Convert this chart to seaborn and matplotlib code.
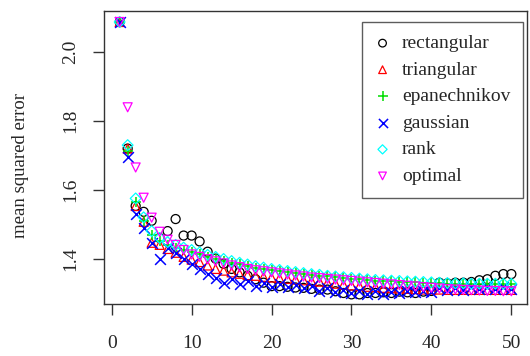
import numpy as np
import pandas as pd
import seaborn as sns
import matplotlib.pyplot as plt

# number of neighbours k = 1..50
k = np.arange(1, 51)

rectangular = [2.088, 1.720, 1.553, 1.536, 1.510, 1.460, 1.480, 1.515, 1.467, 1.467,
               1.450, 1.420, 1.400, 1.385, 1.370, 1.360, 1.350, 1.340, 1.330, 1.320,
               1.320, 1.318, 1.316, 1.315, 1.312, 1.310, 1.310, 1.305, 1.300, 1.296,
               1.296, 1.300, 1.300, 1.302, 1.300, 1.304, 1.302, 1.300, 1.304, 1.306,
               1.330, 1.328, 1.330, 1.330, 1.332, 1.337, 1.340, 1.350, 1.355, 1.355]
triangular = [2.088, 1.720, 1.553, 1.507, 1.446, 1.440, 1.428, 1.417, 1.405, 1.397,
              1.390, 1.380, 1.370, 1.365, 1.360, 1.356, 1.352, 1.350, 1.347, 1.345,
              1.343, 1.341, 1.339, 1.337, 1.335, 1.333, 1.330, 1.327, 1.324, 1.322,
              1.320, 1.318, 1.317, 1.315, 1.314, 1.313, 1.312, 1.311, 1.310, 1.310,
              1.310, 1.309, 1.309, 1.309, 1.309, 1.309, 1.309, 1.309, 1.309, 1.309]
epanechnikov = [2.088, 1.712, 1.565, 1.510, 1.470, 1.450, 1.440, 1.432, 1.425, 1.420,
                1.412, 1.405, 1.400, 1.394, 1.388, 1.383, 1.378, 1.374, 1.370, 1.367,
                1.364, 1.362, 1.359, 1.356, 1.353, 1.350, 1.348, 1.346, 1.344, 1.342,
                1.340, 1.338, 1.336, 1.335, 1.334, 1.333, 1.332, 1.331, 1.330, 1.329,
                1.328, 1.327, 1.326, 1.326, 1.325, 1.325, 1.325, 1.325, 1.325, 1.325]
gaussian = [2.088, 1.696, 1.530, 1.490, 1.446, 1.400, 1.430, 1.415, 1.400, 1.385,
            1.370, 1.354, 1.345, 1.330, 1.340, 1.325, 1.335, 1.320, 1.330, 1.318,
            1.327, 1.316, 1.324, 1.314, 1.320, 1.305, 1.314, 1.302, 1.310, 1.300,
            1.307, 1.298, 1.305, 1.298, 1.304, 1.300, 1.305, 1.302, 1.307, 1.304,
            1.315, 1.310, 1.315, 1.310, 1.316, 1.311, 1.316, 1.312, 1.317, 1.313]
rank = [2.088, 1.730, 1.575, 1.520, 1.480, 1.460, 1.448, 1.440, 1.432, 1.425,
        1.418, 1.411, 1.405, 1.399, 1.393, 1.388, 1.383, 1.378, 1.374, 1.370,
        1.367, 1.364, 1.361, 1.358, 1.355, 1.353, 1.350, 1.348, 1.346, 1.344,
        1.342, 1.340, 1.338, 1.337, 1.336, 1.335, 1.334, 1.333, 1.332, 1.331,
        1.330, 1.329, 1.328, 1.328, 1.327, 1.327, 1.327, 1.327, 1.327, 1.327]
optimal = [2.088, 1.840, 1.665, 1.577, 1.519, 1.478, 1.455, 1.440, 1.425, 1.412,
           1.405, 1.398, 1.392, 1.386, 1.380, 1.375, 1.370, 1.366, 1.363, 1.360,
           1.357, 1.354, 1.351, 1.348, 1.345, 1.343, 1.341, 1.339, 1.337, 1.335,
           1.333, 1.331, 1.329, 1.327, 1.325, 1.323, 1.321, 1.319, 1.317, 1.315,
           1.313, 1.311, 1.310, 1.309, 1.308, 1.307, 1.306, 1.306, 1.305, 1.305]

kernels = ["rectangular", "triangular", "epanechnikov", "gaussian", "rank", "optimal"]
series = [rectangular, triangular, epanechnikov, gaussian, rank, optimal]
colores = ["black", "#FF0000", "#00DD00", "#0000FF", "#00FFFF", "#FF00FF"]
marcadores = ["o", "^", "+", "x", "D", "v"]
abiertos = [True, True, False, False, True, True]

df = pd.DataFrame({"k": np.tile(k, len(kernels)),
                   "mse": np.concatenate(series),
                   "kernel": np.repeat(kernels, len(k))})

sns.set_theme(style="white")
plt.rcParams['font.family'] = ['Liberation Serif', 'DejaVu Serif']

fig = plt.figure(figsize=(5.3, 3.56), dpi=100)
ax = fig.add_axes([104/530, 1-304/356, (527-104)/530, (304-11)/356])

for nombre, c, m, ab in zip(kernels, colores, marcadores, abiertos):
    sub = df[df["kernel"] == nombre]
    if ab:
        sz = 42 if m != "D" else 30
        sns.scatterplot(data=sub, x="k", y="mse", marker=m, s=sz, facecolor="none",
                        edgecolor=c, linewidth=0.9, label=nombre, ax=ax)
    else:
        sns.scatterplot(data=sub, x="k", y="mse", marker=m, s=60, color=c,
                        linewidth=1.1, label=nombre, ax=ax)

ax.set_xlim(-0.96, 51.96)
ax.set_ylim(1.268, 2.12)
ax.set_xticks([0, 10, 20, 30, 40, 50])
ax.set_yticks([1.4, 1.6, 1.8, 2.0])
ax.set_yticklabels(["1.4", "1.6", "1.8", "2.0"], rotation=90, va="center")
ax.tick_params(axis="both", direction="out", length=8, width=1, color="#333333",
               labelsize=14, bottom=True, left=True)
ax.tick_params(axis="x", pad=14)
ax.tick_params(axis="y", pad=10)
for s in ax.spines.values():
    s.set_color("#333333")
    s.set_linewidth(1)
ax.set_xlabel("")
ax.set_ylabel("")
fig.text(21/530, 1-165/356, "mean squared error", rotation=90, va="center",
         ha="center", fontsize=13.5)

leg = ax.legend(loc="upper right", bbox_to_anchor=(0.9905, 1-(22-11)/293), borderaxespad=0,
                fancybox=False, frameon=True, fontsize=14, handlelength=0.8,
                handletextpad=0.6, labelspacing=0.46, borderpad=0.65, markerscale=0.85)
leg.get_frame().set_edgecolor("#333333")
leg.get_frame().set_linewidth(1)

plt.savefig("out.png", dpi=100)
